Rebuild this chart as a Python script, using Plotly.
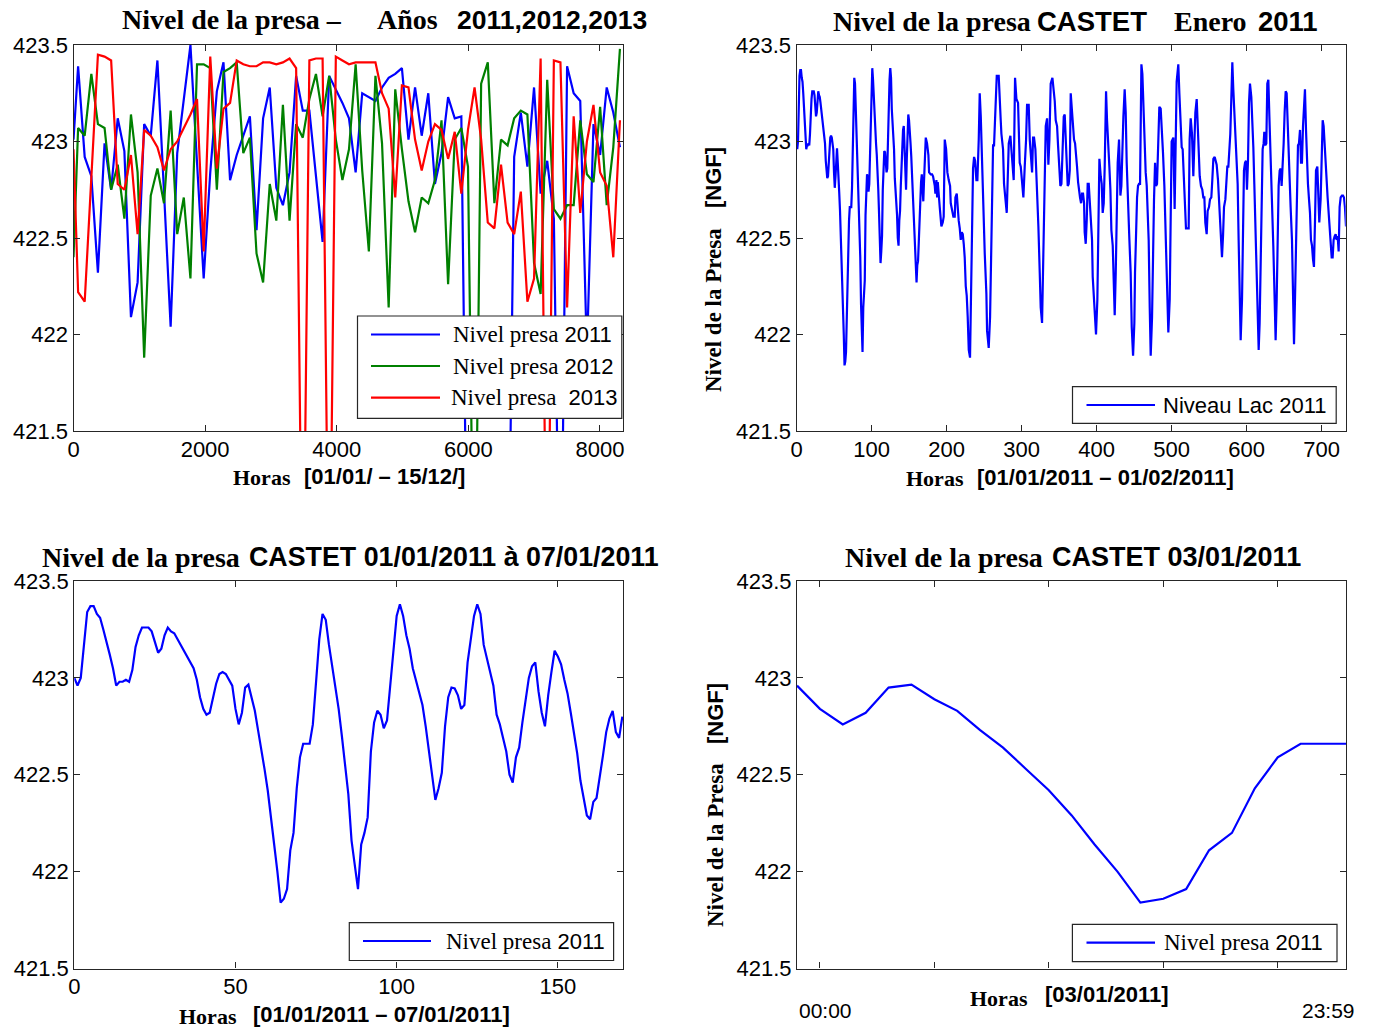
import plotly.graph_objects as go

W, H = 1373, 1030

# ---------------- Panel 1: yearly samples (hours) ----------------
YEAR_HOURS = [0, 70, 170, 271, 371, 472, 572, 672, 773, 873, 974, 1074, 1174, 1275, 1375, 1476,
              1576, 1676, 1777, 1877, 1978, 2078, 2178, 2279, 2379, 2480, 2580, 2680, 2781, 2881,
              2982, 3082, 3182, 3283, 3383, 3484, 3584, 3684, 3785, 3885, 3986, 4086, 4186, 4287,
              4387, 4488, 4588, 4688, 4789, 4889, 4990, 5090, 5190, 5291, 5391, 5492, 5592, 5692,
              5793, 5893, 5994, 6094, 6194, 6295, 6395, 6496, 6596, 6696, 6797, 6897, 6998, 7098,
              7198, 7299, 7399, 7500, 7600, 7700, 7801, 7901, 8002, 8102, 8202, 8303]

NIVEL_2011 = [423.01, 423.39, 422.92, 422.82, 422.32, 422.99, 422.75, 423.12, 422.95, 422.09, 422.27,
              423.09, 423.03, 423.42, 422.74, 422.04, 422.94, 423.23, 423.50, 422.89, 422.29, 422.84,
              423.26, 423.41, 422.80, 422.93, 423.03, 423.13, 422.54, 423.12, 423.28, 422.76, 422.67,
              422.84, 423.34, 423.16, 423.16, 422.83, 422.48, 423.34, 423.27, 423.20, 423.12, 422.84,
              423.25, 423.23, 423.21, 423.28, 423.33, 423.35, 423.38, 423.01, 423.28, 423.03, 423.25,
              422.78, 422.94, 423.23, 423.12, 423.13, 420.30, 420.30, 420.30, 420.30, 420.30, 420.30,
              420.30, 422.92, 423.15, 422.87, 423.28, 422.73, 422.90, 422.60, 420.30, 423.39, 423.25,
              423.21, 421.90, 423.09, 422.93, 423.28, 423.15, 422.97]

NIVEL_2012 = [422.40, 423.07, 423.03, 423.35, 423.09, 423.07, 422.75, 422.88, 422.60, 423.14, 422.84,
              421.88, 422.72, 422.86, 422.68, 423.16, 422.52, 422.71, 422.29, 423.40, 423.40, 423.38,
              422.75, 423.36, 423.38, 423.41, 422.94, 423.02, 422.42, 422.27, 422.78, 422.59, 423.19,
              422.59, 423.09, 423.02, 423.22, 423.35, 423.13, 423.34, 423.01, 422.80, 422.96, 423.40,
              422.85, 422.43, 423.34, 422.99, 422.14, 423.27, 422.96, 422.69, 422.53, 422.71, 422.68,
              422.80, 423.11, 422.26, 423.01, 423.07, 422.87, 420.30, 423.30, 423.41, 422.68, 423.01,
              422.98, 423.12, 423.16, 423.14, 422.37, 422.21, 423.32, 422.65, 422.60, 422.67, 422.67,
              423.11, 422.83, 422.79, 423.18, 422.67, 422.97, 423.48]

NIVEL_2013 = [422.96, 422.22, 422.17, 422.80, 423.45, 423.44, 423.42, 422.78, 422.75, 422.93, 422.52,
              423.06, 423.03, 422.97, 422.85, 422.96, 423.00, 423.07, 423.14, 423.22, 422.43, 423.44,
              422.86, 423.17, 423.20, 423.42, 423.40, 423.39, 423.39, 423.41, 423.41, 423.40, 423.41,
              423.43, 423.38, 420.30, 423.42, 423.43, 423.43, 420.30, 423.44, 423.42, 423.40, 423.41,
              423.41, 423.41, 423.41, 423.25, 423.17, 422.71, 423.29, 423.28, 423.01, 422.85, 423.00,
              423.09, 423.06, 422.91, 423.05, 422.73, 423.06, 423.28, 423.01, 422.58, 422.55, 422.88,
              422.58, 422.52, 422.74, 422.17, 422.29, 423.43, 420.30, 423.42, 423.41, 422.14, 423.13,
              422.63, 423.00, 423.19, 422.84, 422.77, 422.40, 423.11]

# ---------------- First week of January 2011 (hourly) ----------------
WEEK_HOURS = list(range(171))
WEEK_LEVEL = [423.00, 422.96, 423.00, 423.19, 423.34, 423.37, 423.37, 423.33, 423.31, 423.25,
              423.19, 423.12, 423.05, 422.96, 422.98, 422.98, 422.99, 422.98, 423.04, 423.16,
              423.22, 423.26, 423.26, 423.26, 423.24, 423.18, 423.13, 423.15, 423.22, 423.26,
              423.24, 423.23, 423.20, 423.17, 423.14, 423.11, 423.08, 423.05, 422.99, 422.90,
              422.84, 422.81, 422.82, 422.89, 422.97, 423.02, 423.03, 423.02, 422.99, 422.96,
              422.84, 422.76, 422.82, 422.95, 422.965, 422.89, 422.83, 422.73, 422.64, 422.53,
              422.42, 422.29, 422.14, 422.00, 421.84, 421.86, 421.91, 422.11, 422.20, 422.43,
              422.59, 422.66, 422.66, 422.66, 422.76, 422.97, 423.20, 423.33, 423.30, 423.17,
              423.06, 422.96, 422.84, 422.70, 422.55, 422.40, 422.16, 422.02, 421.91, 422.14,
              422.20, 422.28, 422.62, 422.77, 422.83, 422.81, 422.74, 422.78, 422.96, 423.15,
              423.32, 423.38, 423.32, 423.22, 423.15, 423.05, 422.99, 422.93, 422.86, 422.75,
              422.63, 422.50, 422.37, 422.43, 422.51, 422.75, 422.90, 422.95, 422.945, 422.91,
              422.84, 422.86, 423.08, 423.20, 423.32, 423.38, 423.33, 423.17, 423.10, 423.04,
              422.96, 422.81, 422.76, 422.69, 422.62, 422.50, 422.46, 422.59, 422.64, 422.77,
              422.90, 423.00, 423.06, 423.08, 422.93, 422.82, 422.75, 422.91, 423.03, 423.14,
              423.11, 423.07, 422.99, 422.92, 422.82, 422.71, 422.61, 422.47, 422.38, 422.29,
              422.27, 422.36, 422.38, 422.48, 422.60, 422.72, 422.79, 422.83, 422.72, 422.69,
              422.80]

# ---------------- Rest of January 2011 ----------------
MONTH_HOURS = [172.3, 174.0, 175.8, 176.7, 178.9, 180.7, 182.0, 184.3, 185.1, 186.5, 187.4, 188.3,
               189.6, 190.9, 193.1, 194.9, 196.2, 197.6, 199.4, 201.1, 202.9, 204.7, 205.6, 209.1,
               210.9, 211.8, 213.6, 214.9, 216.2, 217.6, 218.9, 220.2, 221.6, 222.9, 224.2, 225.6,
               226.9, 228.2, 229.6, 231.3, 232.7, 234.0, 235.3, 236.7, 238.0, 239.8, 241.1, 242.9,
               244.2, 245.6, 247.5, 248.7, 250.9, 253.1, 254.0, 256.2, 258.0, 259.8, 260.7, 262.0,
               263.3, 265.1, 266.9, 269.5, 270.9, 272.2, 273.1, 275.3, 276.6, 278.4, 280.2, 282.9,
               285.1, 286.4, 288.2, 289.5, 291.3, 293.1, 295.3, 296.2, 297.5, 298.9, 300.6, 302.4,
               304.2, 306.0, 307.3, 309.5, 310.9, 312.2, 314.0, 315.3, 316.6, 318.4, 320.6, 322.4,
               324.2, 325.5, 327.3, 329.1, 330.4, 332.2, 334.0, 335.7, 337.1, 338.8, 341.1, 342.8,
               344.2, 345.5, 347.3, 348.6, 349.9, 351.7, 353.1, 354.8, 356.2, 357.5, 358.8, 360.2,
               361.5, 362.8, 364.2, 365.5, 366.8, 368.6, 369.9, 371.3, 372.6, 373.9, 375.3, 376.6,
               377.9, 379.3, 380.6, 381.9, 383.3, 384.1, 385.5, 386.8, 388.1, 389.5, 391.3, 392.6,
               393.9, 394.8, 396.1, 397.5, 399.2, 401.0, 401.9, 403.7, 405.5, 406.8, 408.1, 409.5,
               410.8, 412.6, 413.9, 415.7, 417.0, 418.4, 419.7, 421.5, 422.8, 424.1, 425.5, 426.8,
               428.1, 429.9, 431.7, 433.0, 434.3, 435.7, 437.4, 438.8, 440.1, 441.9, 443.7, 445.4,
               446.8, 448.6, 450.3, 451.2, 452.6, 453.9, 455.2, 456.5, 457.9, 459.7, 461.0, 462.3,
               463.7, 465.4, 466.8, 468.1, 469.4, 470.8, 472.1, 473.9, 475.2, 476.5, 477.9, 479.2,
               480.5, 481.9, 483.6, 485.4, 486.8, 488.5, 490.3, 492.1, 493.9, 495.6, 497.4, 498.7,
               500.0, 502.3, 504.0, 506.7, 508.9, 510.3, 512.0, 513.4, 514.7, 516.0, 517.4, 519.1,
               522.7, 524.0, 525.4, 527.1, 528.9, 530.3, 531.6, 533.4, 534.7, 536.0, 537.4, 539.1,
               540.9, 542.2, 543.6, 544.9, 546.7, 548.0, 549.8, 551.1, 552.9, 554.2, 555.6, 557.4,
               558.7, 560.0, 561.8, 563.1, 564.5, 566.2, 567.1, 568.5, 569.8, 571.6, 572.9, 574.2,
               575.6, 576.9, 578.2, 579.6, 580.9, 582.2, 583.6, 584.9, 586.2, 588.0, 589.3, 590.7,
               592.0, 593.8, 595.1, 596.4, 597.8, 599.1, 600.4, 601.8, 603.1, 604.4, 606.2, 607.5,
               608.9, 610.2, 612.0, 613.3, 614.6, 616.0, 617.3, 618.7, 620.0, 621.3, 622.6, 623.5,
               624.9, 626.2, 627.5, 628.9, 630.2, 631.5, 632.9, 634.2, 635.5, 637.3, 638.6, 640.0,
               641.3, 642.6, 644.0, 645.3, 646.6, 648.0, 649.3, 650.6, 652.0, 653.3, 654.6, 656.0,
               657.3, 658.6, 660.4, 661.7, 663.1, 664.4, 665.7, 667.1, 668.4, 669.7, 671.1, 672.4,
               673.7, 675.1, 676.4, 677.7, 679.1, 680.4, 681.7, 683.1, 684.4, 685.7, 687.1, 688.4,
               689.7, 691.1, 692.4, 694.2, 695.5, 696.8, 698.6, 699.9, 701.3, 702.6, 703.9, 705.3,
               706.6, 707.9, 709.3, 710.6, 711.9, 713.3, 714.6, 715.9, 717.3, 718.6, 719.9, 721.3,
               722.6, 723.9, 725.3, 727.0, 728.4, 729.7, 731.0, 732.4]
MONTH_LEVEL = [423.02, 422.99, 422.93, 422.84, 422.83, 422.83, 422.82, 422.77, 422.73, 422.80, 422.71, 422.79,
               422.71, 422.66, 422.56, 422.58, 422.61, 423.01, 422.96, 422.84, 422.80, 422.77, 422.68, 422.61,
               422.61, 422.71, 422.73, 422.62, 422.59, 422.55, 422.49, 422.53, 422.52, 422.47, 422.40, 422.25,
               422.20, 422.09, 421.92, 421.88, 422.21, 422.63, 422.86, 422.92, 422.90, 422.80, 422.80, 423.01,
               423.25, 423.13, 422.82, 422.72, 422.42, 422.21, 422.02, 421.93, 422.09, 422.49, 422.78, 422.98,
               422.98, 423.18, 423.34, 423.34, 423.25, 423.11, 423.04, 422.96, 422.78, 422.71, 422.63, 422.99,
               423.03, 422.96, 422.87, 422.80, 423.33, 423.22, 423.20, 423.09, 422.89, 422.87, 422.77, 422.71,
               422.87, 423.01, 423.19, 423.19, 423.01, 422.92, 422.84, 423.02, 423.02, 422.96, 422.77, 422.56,
               422.32, 422.14, 422.06, 422.46, 422.78, 423.08, 423.12, 422.88, 423.01, 423.30, 423.33, 423.28,
               423.21, 423.11, 423.08, 422.98, 422.87, 422.77, 422.78, 423.01, 423.13, 423.14, 423.02, 422.87,
               422.77, 422.78, 422.85, 423.25, 423.18, 423.09, 423.01, 422.99, 422.90, 422.87, 422.79, 422.73,
               422.71, 422.68, 422.73, 422.73, 422.68, 422.53, 422.47, 422.59, 422.78, 422.78, 422.68, 422.56,
               422.49, 422.30, 422.21, 422.08, 422.00, 422.18, 422.42, 422.91, 422.82, 422.78, 422.63, 422.68,
               422.87, 423.26, 423.11, 422.92, 422.87, 422.75, 422.54, 422.46, 422.23, 422.10, 422.32, 422.58,
               422.89, 423.01, 422.72, 422.77, 423.01, 423.13, 423.27, 423.15, 422.89, 422.63, 422.49, 422.32,
               422.04, 421.89, 422.06, 422.32, 422.63, 422.71, 422.77, 422.78, 422.78, 423.40, 423.35, 423.18,
               422.96, 422.84, 422.77, 422.65, 422.49, 422.14, 421.89, 422.09, 422.44, 422.70, 422.89, 422.77,
               422.78, 422.96, 423.18, 423.17, 423.09, 422.94, 422.77, 422.51, 422.21, 422.01, 422.18, 422.49,
               423.00, 423.02, 422.65, 423.31, 423.40, 423.25, 423.09, 422.97, 422.96, 422.85, 422.71, 422.55,
               422.55, 423.01, 423.12, 423.04, 422.82, 423.01, 423.15, 423.22, 423.08, 423.01, 422.82, 422.77,
               422.75, 422.71, 422.71, 422.58, 422.52, 422.64, 422.66, 422.70, 422.71, 422.80, 422.91, 422.92,
               422.90, 422.88, 422.80, 422.70, 422.59, 422.52, 422.40, 422.51, 422.66, 422.70, 422.82, 422.87,
               422.87, 422.96, 423.04, 423.23, 423.41, 423.27, 423.13, 423.08, 422.94, 422.78, 422.49, 422.20,
               421.97, 422.18, 422.52, 422.85, 422.89, 422.90, 422.75, 422.90, 423.20, 423.30, 423.23, 423.13,
               422.97, 422.78, 422.52, 422.21, 422.06, 421.92, 422.06, 422.32, 422.63, 422.96, 422.99, 423.05,
               422.98, 422.99, 423.30, 423.32, 423.14, 422.97, 422.85, 422.73, 422.46, 422.18, 421.97, 422.18,
               422.49, 422.77, 422.85, 422.86, 422.77, 422.86, 422.99, 423.15, 423.26, 423.25, 423.08, 422.94,
               422.78, 422.66, 422.49, 422.18, 421.95, 422.18, 422.49, 422.84, 422.98, 422.99, 423.06, 422.89,
               422.89, 423.08, 423.20, 423.27, 423.06, 422.90, 422.78, 422.70, 422.63, 422.49, 422.46, 422.39,
               422.35, 422.59, 422.85, 422.87, 422.72, 422.58, 422.70, 422.96, 423.11, 423.08, 422.97, 422.84,
               422.80, 422.71, 422.63, 422.52, 422.49, 422.40, 422.40, 422.49, 422.51, 422.52, 422.49, 422.51,
               422.43, 422.66, 422.71, 422.72, 422.72, 422.71, 422.66, 422.56]

# ---------------- 03/01/2011: hours 49..73 of the first week ----------------
DAY_START, DAY_END = 49, 73

Y_TICKS = [421.5, 422, 422.5, 423, 423.5]
Y_TICKTEXT = ["421.5", "422", "422.5", "423", "423.5"]

BLUE, GREEN, RED = "#0000FF", "#008000", "#FF0000"
SANS = "Liberation Sans, Arial, sans-serif"
SERIF = "Liberation Serif, Times New Roman, serif"

# axes boxes in pixels (left, right, top, bottom)
BOX = {
    1: (73.5, 622.7, 45, 431),
    2: (796.5, 1345.7, 45, 431),
    3: (74.3, 623.3, 581, 968.5),
    4: (797.0, 1346.4, 581, 968.5),
}

fig = go.Figure()

def add_line(ax, x, y, color):
    sfx = "" if ax == 1 else str(ax)
    fig.add_trace(go.Scatter(x=x, y=y, mode="lines", line=dict(color=color, width=2.2),
                             xaxis="x" + sfx, yaxis="y" + sfx, showlegend=False,
                             hoverinfo="x+y"))

add_line(1, YEAR_HOURS, NIVEL_2011, BLUE)
add_line(1, YEAR_HOURS, NIVEL_2012, GREEN)
add_line(1, YEAR_HOURS, NIVEL_2013, RED)
add_line(2, WEEK_HOURS + MONTH_HOURS, WEEK_LEVEL + MONTH_LEVEL, BLUE)
add_line(3, WEEK_HOURS, WEEK_LEVEL, BLUE)
add_line(4, WEEK_HOURS[DAY_START:DAY_END + 1], WEEK_LEVEL[DAY_START:DAY_END + 1], BLUE)

axis_common = dict(showline=True, linecolor="#262626", linewidth=1.2, mirror="ticks",
                   ticks="inside", ticklen=6, tickwidth=1.2, tickcolor="#262626",
                   showgrid=False, zeroline=False, automargin=False,
                   tickfont=dict(family=SANS, size=22, color="black"))

x_ranges = {1: [0, 8345], 2: [0, 732], 3: [0, 170.3], 4: [49, 73]}
x_ticks = {1: [0, 2000, 4000, 6000, 8000], 2: [0, 100, 200, 300, 400, 500, 600, 700],
           3: [0, 50, 100, 150], 4: [50, 55, 60, 65, 70]}

layout_axes = {}
for ax, (l, r, t, b) in BOX.items():
    sfx = "" if ax == 1 else str(ax)
    layout_axes["xaxis" + sfx] = dict(axis_common, domain=[l / W, r / W], range=x_ranges[ax],
                                      tickvals=x_ticks[ax], anchor="y" + sfx,
                                      showticklabels=(ax != 4), ticklabelstandoff=-2)
    layout_axes["yaxis" + sfx] = dict(axis_common, domain=[1 - b / H, 1 - t / H], range=[421.5, 423.5],
                                      tickvals=Y_TICKS, ticktext=Y_TICKTEXT, anchor="x" + sfx,
                                      ticklabelstandoff=0)

annotations = []
shapes = []

def text(x, y, s, family, size, bold=True, anchor="left", angle=0):
    annotations.append(dict(x=x / W, y=1 - y / H, xref="paper", yref="paper", text=s,
                            showarrow=False, xanchor=anchor, yanchor="middle", textangle=angle,
                            font=dict(family=family, size=size, color="black",
                                      weight="bold" if bold else "normal")))

# titles
text(120, 20, "Nivel de la presa –", SERIF, 28)
text(375, 20, "Años", SERIF, 28)
text(455, 20, "2011,2012,2013", SANS, 26.5)
text(831, 21, "Nivel de la presa", SERIF, 28)
text(1035, 21, "CASTET", SANS, 27.5)
text(1172, 21, "Enero", SERIF, 28)
text(1256, 21, "2011", SANS, 27.5)
text(40, 557, "Nivel de la presa", SERIF, 28)
text(247, 557, "CASTET 01/01/2011 à 07/01/2011", SANS, 26.8)
text(843, 557, "Nivel de la presa", SERIF, 28)
text(1050, 557, "CASTET 03/01/2011", SANS, 27)

# x axis labels
text(231, 477, "Horas", SERIF, 22)
text(302, 476, "[01/01/ – 15/12/]", SANS, 22)
text(904, 479, "Horas", SERIF, 22)
text(975, 477, "[01/01/2011 – 01/02/2011]", SANS, 22)
text(177, 1016, "Horas", SERIF, 22)
text(251, 1014, "[01/01/2011 – 07/01/2011]", SANS, 22)
text(968, 998, "Horas", SERIF, 22)
text(1043, 994, "[03/01/2011]", SANS, 22)
text(797, 1010, "00:00", SANS, 21, bold=False)
text(1357, 1010, "23:59", SANS, 21, bold=False, anchor="right")

# y axis labels (rotated)
text(713, 310, "Nivel de la Presa", SERIF, 23, anchor="center", angle=-90)
text(713, 178, "[NGF]", SANS, 22, anchor="center", angle=-90)
text(715, 845, "Nivel de la Presa", SERIF, 23, anchor="center", angle=-90)
text(715, 714, "[NGF]", SANS, 22, anchor="center", angle=-90)

# legends (boxes drawn over the plot area)
def legend_box(l, t, r, b):
    shapes.append(dict(type="rect", xref="paper", yref="paper", x0=l / W, x1=r / W,
                       y0=1 - b / H, y1=1 - t / H, line=dict(color="#262626", width=1.2),
                       fillcolor="white", layer="above"))

def legend_item(x0, x1, y, color, label_x, label):
    shapes.append(dict(type="line", xref="paper", yref="paper", x0=x0 / W, x1=x1 / W,
                       y0=1 - y / H, y1=1 - y / H, line=dict(color=color, width=2.2), layer="above"))
    annotations.append(dict(x=label_x / W, y=1 - y / H, xref="paper", yref="paper", text=label,
                            showarrow=False, xanchor="left", yanchor="middle",
                            font=dict(family=SANS, size=22, color="black")))

def presa(year):
    return ('<span style="font-family:Liberation Serif, serif; font-size:23px">Nivel presa</span> '
            + str(year))

legend_box(357.5, 316, 621.8, 418.3)
legend_item(371, 440, 334.5, BLUE, 451, presa(2011))
legend_item(371, 440, 366, GREEN, 451, presa(2012))
legend_item(371, 440, 397.7, RED, 449, presa(2013).replace("</span> ", "</span>  "))

legend_box(1072.5, 386.7, 1336.2, 423.3)
legend_item(1086.5, 1155, 405, BLUE, 1161, "Niveau Lac 2011")

legend_box(349.3, 922.7, 613.6, 960.5)
legend_item(363, 431, 941, BLUE, 444, presa(2011))

legend_box(1072.4, 924.3, 1337, 961.7)
legend_item(1086.5, 1155, 942.7, BLUE, 1162, presa(2011))

fig.update_layout(
    width=W, height=H, margin=dict(l=0, r=0, t=0, b=0, autoexpand=False),
    paper_bgcolor="white", plot_bgcolor="white",
    annotations=annotations, shapes=shapes, showlegend=False,
    **layout_axes,
)

fig.write_html("out.html", config={"displayModeBar": False},
               post_script="document.body.style.margin='0';document.body.style.overflow='hidden';")
